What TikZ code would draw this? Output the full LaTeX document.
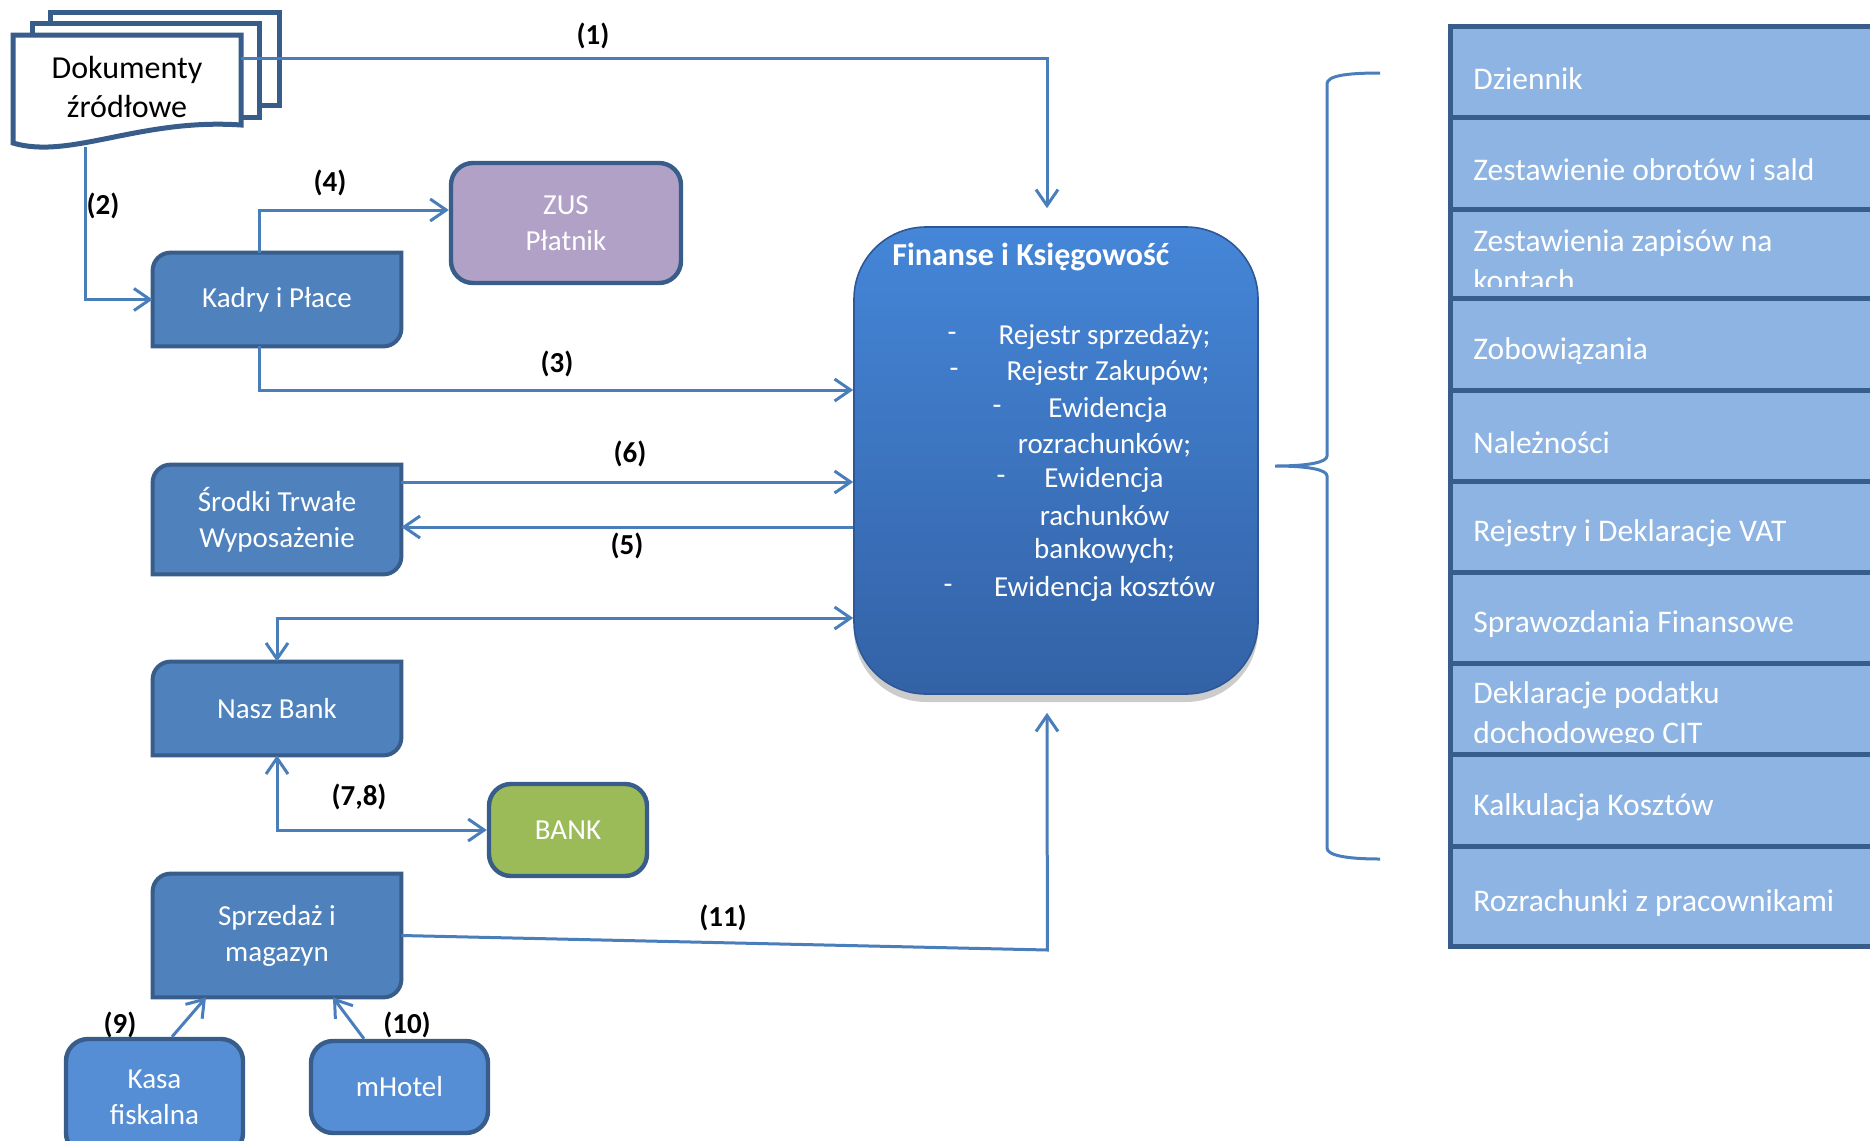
\documentclass[tikz,border=0pt]{standalone}
\usepackage{fontspec}
\setmainfont{Carlito}
\usetikzlibrary{arrows.meta,backgrounds,shadows}

\definecolor{modfill}{HTML}{4F81BD}
\definecolor{modline}{HTML}{385D8A}
\definecolor{zusfill}{HTML}{B2A1C7}
\definecolor{bankfill}{HTML}{9BBB59}
\definecolor{posfill}{HTML}{558ED5}
\definecolor{rowfill}{HTML}{8EB4E3}
\definecolor{linkblue}{HTML}{4A7EBB}
\definecolor{fintopcol}{HTML}{4586D8}
\definecolor{finbotcol}{HTML}{3362A6}

\newcommand{\boxfont}{\fontsize{14.5}{18}\selectfont}
\newcommand{\rowfont}{\fontsize{15.75}{20}\selectfont}
\newcommand{\labfont}{\fontsize{14.5}{17}\selectfont\bfseries}
\newcommand{\titlefont}{\fontsize{16}{19}\selectfont\bfseries}

\begin{document}
\begin{tikzpicture}[x=0.5pt,y=-0.5pt,
    >={Straight Barb[length=8pt,width=11pt]},
    link/.style={draw=linkblue,line width=1.5pt},
    lab/.style={font=\labfont,text=black},
    module/.style={minimum width=124pt,inner sep=0pt,text=white,font=\boxfont,align=center},
    roundbox/.style={module,draw=modline,line width=2.2pt,rounded corners=11pt},
    docline/.style={draw=modline,line width=2.5pt,fill=white},
    finbox/.style={minimum width=202pt,minimum height=233.5pt,inner sep=0pt,
      rounded corners=36pt,draw=finbotcol!90!black,line width=0.8pt,
      top color=fintopcol,bottom color=finbotcol,
      drop shadow={shadow xshift=0pt,shadow yshift=-4pt,opacity=0.4}},
    fintext/.style={text=white,font=\boxfont,inner sep=0pt},
    rowtext/.style={text=white,font=\rowfont,align=left,inner sep=0pt,anchor=west}]
  \useasboundingbox (0,0) rectangle (1870,1141);

  % source documents
  \draw[docline] (50,12) rectangle (279,105);
  \draw[docline] (32,23) rectangle (259,117);
  \draw[docline] (13,35) -- (241,35) -- (241,125) .. controls (140,118) and (70,160) .. (13,143) -- cycle;
  \node[minimum width=114pt,minimum height=52pt,inner sep=0pt,align=center,
    font=\fontsize{16}{19.5}\selectfont] (dok) at (127,87) {Dokumenty\\źródłowe};

  % modules
  \node[module,minimum height=46.5pt] (kadry) at (277,299.5) {Kadry i Płace};
  \node[module,minimum height=54.5pt] (srodki) at (277,519.5) {Środki Trwałe\\Wyposażenie};
  \node[module,minimum height=46.5pt] (naszbank) at (277,708.5) {Nasz Bank};
  \node[module,minimum height=61.5pt] (sprzedaz) at (277,935.5) {Sprzedaż i\\magazyn};
  \node[roundbox,fill=zusfill,minimum width=115pt,minimum height=60pt] (zus) at (566,223) {ZUS\\Płatnik};
  \node[roundbox,fill=bankfill,minimum width=79pt,minimum height=46pt] (bank) at (568,830) {BANK};
  \node[roundbox,fill=posfill,minimum width=88.5pt,minimum height=58pt] (kasa) at (154.5,1097) {Kasa\\fiskalna};
  \node[roundbox,fill=posfill,minimum width=88.5pt,minimum height=46pt] (mhotel) at (399.5,1087) {mHotel};

  \begin{pgfonlayer}{background}
    \foreach \n in {kadry,srodki,naszbank,sprzedaz}
      \draw[draw=modline,fill=modfill,line width=2pt] (\n.south west) -- ([yshift=-9pt]\n.north west)
        arc[start angle=180,end angle=90,radius=9pt] -- (\n.north east) -- ([yshift=9pt]\n.south east)
        arc[start angle=0,end angle=-90,radius=9pt] -- cycle;
  \end{pgfonlayer}

  % finance module
  \node[finbox] (fin) at (1056,460.5) {};
  \node[text=white,font=\titlefont,anchor=west,inner sep=0pt] (fintitle) at (892,257) {Finanse i Księgowość};
  \foreach \x/\y/\entry [count=\i] in {1104.5/337/Rejestr sprzedaży;,1108/373/Rejestr Zakupów;,
      1108/410/Ewidencja,1104.5/445/rozrachunków;,1104/480/Ewidencja,1104.5/516/rachunków,
      1104.5/551/bankowych;,1104.5/589/Ewidencja kosztów}
    \node[fintext] (finitem\i) at (\x,\y) {\entry};
  \foreach \x/\y [count=\i] in {952/337,954/373,997/410,1001/480,948/589}
    \node[fintext] (dash\i) at (\x,\y) {-};

  % connectors
  \coordinate (finin1) at ([xshift=-4.5pt,yshift=9pt]fin.north);
  \draw[link,->] ([yshift=14.5pt]dok.east) -| (finin1);
  \draw[link,->] ([xshift=-21pt,yshift=-4pt]dok.south) |- (kadry.west);
  \draw[link,->] ([xshift=-9pt]kadry.north) |- ([yshift=6.5pt]zus.west);
  \draw[link,->] ([xshift=-9pt]kadry.south) |- ([yshift=35.25pt]fin.west);
  \coordinate (s6) at ([yshift=18.75pt]srodki.east);
  \coordinate (s5) at ([yshift=-3.75pt]srodki.east);
  \draw[link,->] (s6) -- (s6 -| fin.west);
  \draw[link,->] (s5 -| fin.west) -- (s5);
  \draw[link,<->] (naszbank.north) |- ([yshift=-78.75pt]fin.west);
  \draw[link,<->] (naszbank.south) |- (bank.west);
  \coordinate (finin11) at ([xshift=-4.5pt,yshift=-9pt]fin.south);
  \draw[link,->] (sprzedaz.east) -- ++(323pt,-7.25pt) -- (finin11);
  \draw[link,->] ([xshift=8.75pt]kasa.north) -- ([xshift=-35.5pt]sprzedaz.south);
  \draw[link,->] ([xshift=-17.75pt]mhotel.north) -- ([xshift=28pt]sprzedaz.south);

  % labels
  \node[lab] (l1) at (593,36) {(1)};
  \node[lab] (l2) at (103,206) {(2)};
  \node[lab] (l4) at (330,183) {(4)};
  \node[lab] (l3) at (557,364) {(3)};
  \node[lab] (l6) at (630,454) {(6)};
  \node[lab] (l5) at (627,546) {(5)};
  \node[lab] (l78) at (359,797) {(7,8)};
  \node[lab] (l11) at (723,918) {(11)};
  \node[lab] (l9) at (120,1025) {(9)};
  \node[lab] (l10) at (407,1025) {(10)};

  % brace
  \draw[link] (1380,73) .. controls (1345,73) and (1327,76) .. (1327,84) -- (1327,456)
    .. controls (1327,462) and (1310,466) .. (1275,466)
    .. controls (1310,466) and (1327,470) .. (1327,476) -- (1327,848)
    .. controls (1327,855) and (1345,859) .. (1380,859);

  % reports
  \foreach \ra/\rb/\name [count=\i] in {26/117/Dziennik,117/209/Zestawienie obrotów i sald,
      209/298/{Zestawienia zapisów na\\kontach},298/390/Zobowiązania,390/481/Należności,
      481/572/Rejestry i Deklaracje VAT,572/663/Sprawozdania Finansowe,
      663/754/{Deklaracje podatku\\dochodowego CIT},754/846/Kalkulacja Kosztów,
      846/946/Rozrachunki z pracownikami} {
    \draw[draw=modline,fill=rowfill,line width=2.5pt] (1450,\ra) rectangle (1895,\rb);
    \begin{scope}
      \clip (1455,\ra+6) rectangle (1895,\rb-12);
      \node[rowtext] (row\i) at (1473,{(\ra+\rb)/2+7}) {\name};
    \end{scope}
  }
\end{tikzpicture}
\end{document}
